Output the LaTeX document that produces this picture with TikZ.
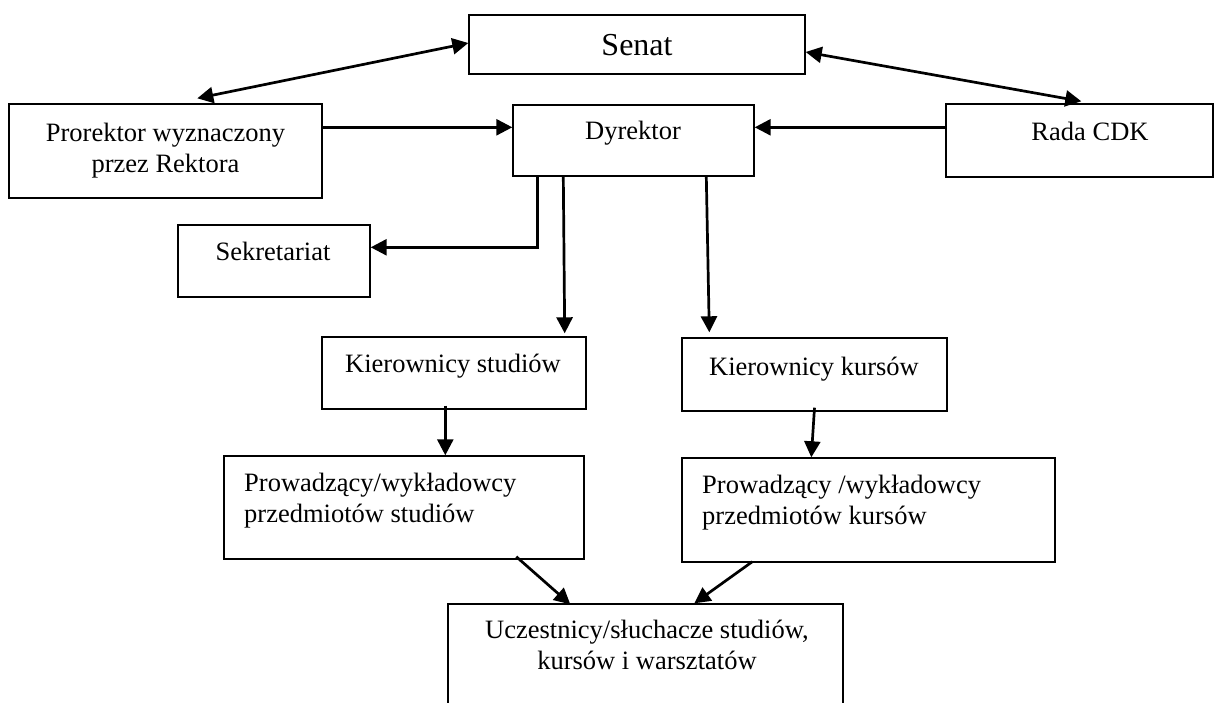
\documentclass[tikz,border=0pt]{standalone}
\usepackage{fontspec}
\setmainfont{Liberation Serif}
\usetikzlibrary{arrows.meta,calc}
\tikzset{
  box/.style 2 args={draw, line width=1.4pt, minimum width=#1, minimum height=#2, inner sep=0pt},
  lbl/.style={font=\fontsize{26.5}{31}\selectfont, inner sep=0pt},
  arr/.style={line width=2.7pt, -{Triangle[length=16pt,width=16pt]}},
  dbl/.style={line width=2.7pt, {Triangle[length=16pt,width=16pt]}-{Triangle[length=16pt,width=16pt]}}
}
\begin{document}
\begin{tikzpicture}[x=1pt,y=-1pt]
\clip (0,0) rectangle (1221,702);
\fill[white] (0,0) rectangle (1221,702);
% boxes
\node[box={336pt}{59pt}] (senat) at (637,44.5) {};
\node[box={313pt}{94pt}] (prorektor) at (165.5,151) {};
\node[box={241pt}{71pt}] (dyrektor) at (633.5,140.5) {};
\node[box={267pt}{73pt}] (rada) at (1079.5,140.5) {};
\node[box={192pt}{72pt}] (sekretariat) at (274,261) {};
\node[box={264pt}{72pt}] (kstud) at (454,373) {};
\node[box={265pt}{73pt}] (kkurs) at (814.5,374.5) {};
\node[box={360pt}{103pt}] (pstud) at (404,507.5) {};
\node[box={373pt}{104pt}] (pkurs) at (868.5,510) {};
\node[box={395pt}{116pt}] (ucz) at (645.5,662) {};
% texts
\node[lbl, font=\fontsize{32}{36}\selectfont, anchor=base] (senat-t) at (637,55) {Senat};
\node[lbl, align=center] (prorektor-t) at (165.5,150.3) {Prorektor wyznaczony\\przez Rektora};
\node[lbl, anchor=base] (dyrektor-t) at (633,139) {Dyrektor};
\node[lbl, anchor=base] (rada-t) at (1090,140) {Rada CDK};
\node[lbl, anchor=base] (sekretariat-t) at (273,260) {Sekretariat};
\node[lbl, anchor=base] (kstud-t) at (453,372) {Kierownicy studiów};
\node[lbl, anchor=base] (kkurs-t) at (814,375) {Kierownicy kursów};
\node[lbl, align=left, anchor=west] (pstud-t) at (244,501) {Prowadzący/wykładowcy\\przedmiotów studiów};
\node[lbl, align=left, anchor=west] (pkurs-t) at (702,502.5) {Prowadzący /wykładowcy\\przedmiotów kursów};
\node[lbl, align=center] (ucz-t) at (647,645) {Uczestnicy/słuchacze studiów,\\kursów i warsztatów};
% connectors
\draw[dbl] ($(senat.west)+(0,-1.5)$) -- ($(prorektor.north west)+(189,-5)$);
\draw[dbl] ($(senat.east)+(0,7.5)$) -- ($(rada.north west)+(136,-2)$);
\draw[arr] ($(prorektor.north east)+(0,24)$) -- ($(dyrektor.north west)+(0,23)$);
\draw[arr] ($(rada.north west)+(0,24)$) -- ($(dyrektor.north east)+(0,23)$);
\draw[arr] ($(dyrektor.south west)+(25,0)$) |- ($(sekretariat.north east)+(0,23)$);
\draw[arr] ($(dyrektor.south west)+(51,0)$) -- ($(kstud.north east)+(-22,-3)$);
\draw[arr] ($(dyrektor.south west)+(194,0)$) -- ($(kkurs.north west)+(28,-5)$);
\draw[arr] ($(kstud.south west)+(124,-4)$) -- ($(pstud.north west)+(222,0)$);
\draw[arr] ($(kkurs.south)+(0,-4)$) -- ($(pkurs.north west)+(130,0)$);
\draw[arr] ($(pstud.south west)+(293,-3)$) -- ($(ucz.north west)+(123,1)$);
\draw[arr] ($(pkurs.south west)+(71,-1)$) -- ($(ucz.north west)+(247,0)$);
\end{tikzpicture}
\end{document}
